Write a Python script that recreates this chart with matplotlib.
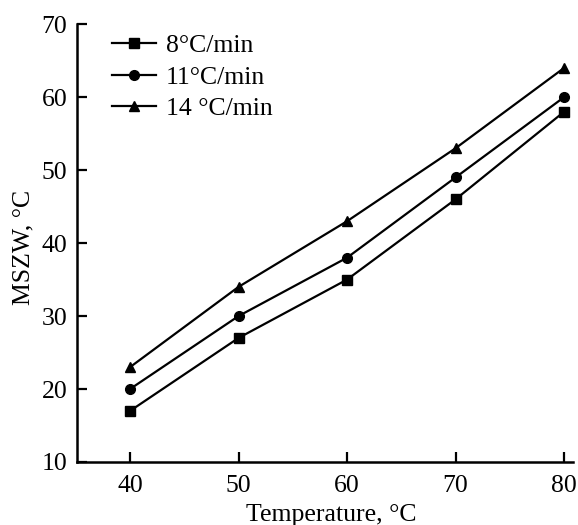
import matplotlib.pyplot as plt

# temperature [°C] and MSZW [°C] for three cooling rates
temperature = [40, 50, 60, 70, 80]
mszw_8 = [17, 27, 35, 46, 58]
mszw_11 = [20, 30, 38, 49, 60]
mszw_14 = [23, 34, 43, 53, 64]

plt.rcParams['font.family'] = ['Liberation Serif', 'DejaVu Serif']
plt.rcParams['mathtext.fontset'] = 'stix'

fig = plt.figure(figsize=(5.78, 5.25), dpi=100)
ax = fig.add_axes([0.133, 0.12, 0.858, 0.834])

ax.plot(temperature, mszw_8, '-ks', lw=1.6, ms=7, label='8°C/min')
ax.plot(temperature, mszw_11, '-ko', lw=1.6, ms=7, label='11°C/min')
ax.plot(temperature, mszw_14, '-k^', lw=1.6, ms=7.5, label='14 °C/min')

ax.set_xlim(35.1, 80.8)
ax.set_ylim(10, 70)
ax.set_xticks([40, 50, 60, 70, 80])
ax.set_yticks([10, 20, 30, 40, 50, 60, 70])
ax.tick_params(direction='in', length=7, width=1.6, labelsize=18.5)
ax.tick_params(axis='x', pad=9)
ax.tick_params(axis='y', pad=7)
for s in ['top', 'right']:
    ax.spines[s].set_visible(False)
for s in ['left', 'bottom']:
    ax.spines[s].set_linewidth(1.8)

ax.set_xlabel('Temperature, °C', fontsize=18.5)
ax.set_ylabel('MSZW, °C', fontsize=18.5)
ax.xaxis.set_label_coords(0.512, -0.095)
ax.yaxis.set_label_coords(-0.085, 0.49)

ax.legend(loc='upper left', frameon=False, fontsize=18.5, handlelength=1.7,
          handletextpad=0.4, labelspacing=0.33, borderaxespad=0.0,
          bbox_to_anchor=(0.05, 1.0))

fig.savefig('out.png', dpi=100)
